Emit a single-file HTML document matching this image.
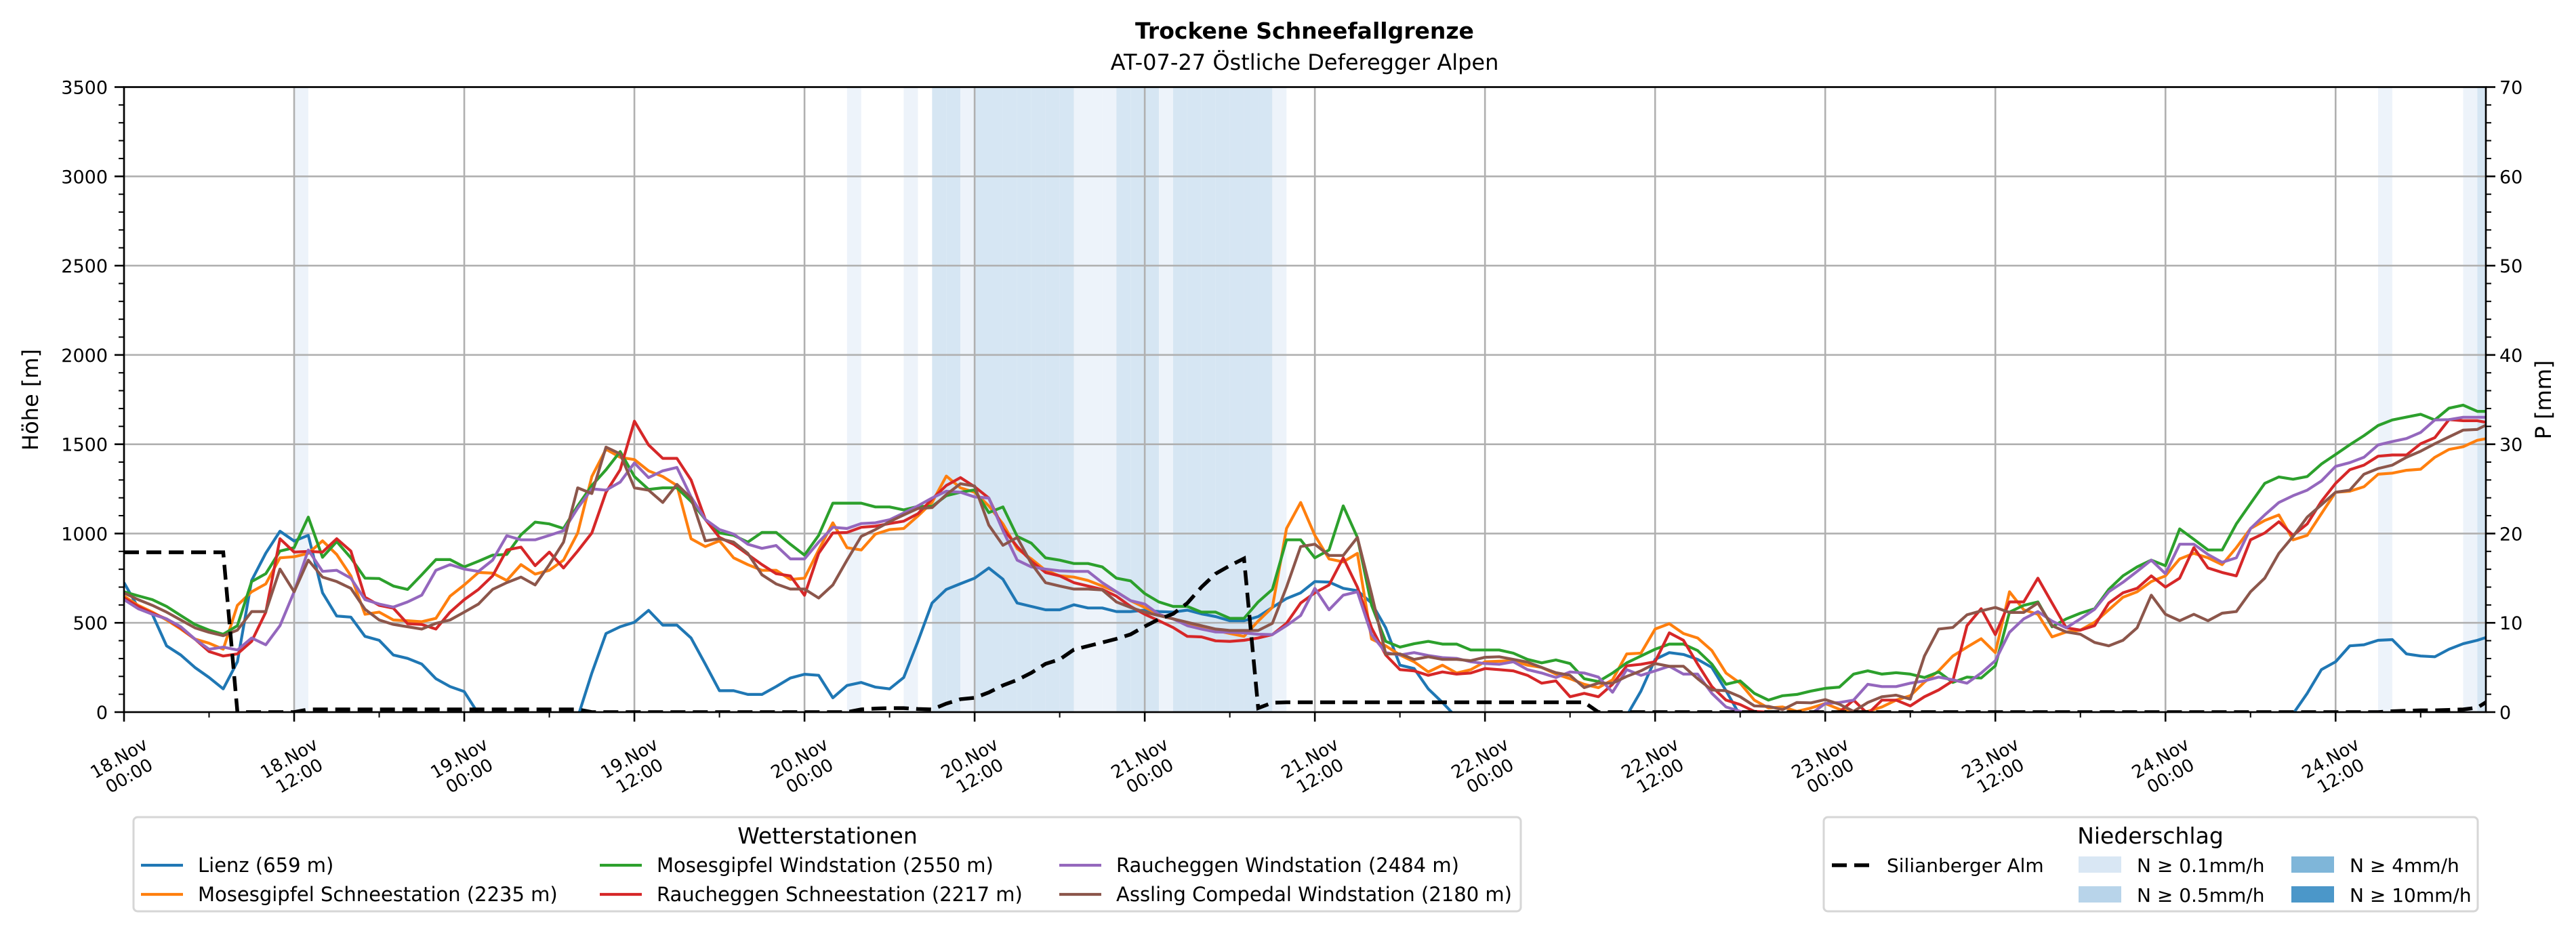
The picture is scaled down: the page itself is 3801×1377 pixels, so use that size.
<!DOCTYPE html>
<html><head><meta charset="utf-8"><style>
body{margin:0;background:#fff}
svg{display:block;font-family:"DejaVu Sans","Liberation Sans",sans-serif}
</style></head><body>
<svg id="chart" width="3801" height="1377" viewBox="0 0 3801 1377" xmlns="http://www.w3.org/2000/svg">
<rect width="3801" height="1377" fill="#fff"/>
<defs><clipPath id="clip"><rect x="183" y="128.5" width="3485" height="922.5"/></clipPath></defs>
<g id="bands" clip-path="url(#clip)"></g>
<g id="grid"></g>
<g id="series" clip-path="url(#clip)"></g>
<g id="axes"></g>
<text x="1925" y="57" text-anchor="middle" font-size="33" font-weight="bold">Trockene Schneefallgrenze</text>
<text x="1925" y="103" text-anchor="middle" font-size="32">AT-07-27 Östliche Deferegger Alpen</text>
<text transform="translate(56,590) rotate(-90)" text-anchor="middle" font-size="32">Höhe [m]</text>
<text transform="translate(3764,590) rotate(-90)" text-anchor="middle" font-size="32">P [mm]</text>
<g id="legends"></g>
</svg>
<script>
const NS="http://www.w3.org/2000/svg";
// ---- data ----
const hours=[];for(let i=0;i<168;i++)hours.push(i);
const xTickLabels=["18.Nov|00:00","18.Nov|12:00","19.Nov|00:00","19.Nov|12:00","20.Nov|00:00","20.Nov|12:00","21.Nov|00:00","21.Nov|12:00","22.Nov|00:00","22.Nov|12:00","23.Nov|00:00","23.Nov|12:00","24.Nov|00:00","24.Nov|12:00"];
const yTicks=[0,500,1000,1500,2000,2500,3000,3500];
const y2Ticks=[0,10,20,30,40,50,60,70];
const stationNames=["Lienz (659 m)","Mosesgipfel Schneestation (2235 m)","Mosesgipfel Windstation (2550 m)","Raucheggen Schneestation (2217 m)","Raucheggen Windstation (2484 m)","Assling Compedal Windstation (2180 m)"];
const lienz=[725,585,548,371,320,250,194,130,282,737,
890,1013,958,990,668,538,532,424,402,320,
301,269,187,143,115,-10,-150,-200,-200,-200,
-200,-150,-30,219,440,478,503,570,487,487,
415,269,120,120,99,99,143,191,212,206,
80,149,166,140,130,194,396,611,687,719,
750,807,744,611,592,573,573,601,583,583,
563,563,571,563,560,571,550,535,512,512,
535,586,636,668,731,728,693,680,611,472,
263,244,130,54,-30,-200,-200,-200,-200,-200,
-200,-200,-200,-200,-200,-200,-20,118,295,333,
323,295,250,120,-20,-200,-200,-200,-200,-200,
-200,-200,-200,-200,-200,-200,-200,-200,-200,-200,
-200,-200,-200,-200,-200,-200,-200,-200,-200,-200,
-200,-200,-200,-200,-200,-200,-200,-200,-200,-200,
-200,-200,-200,-10,105,238,282,371,377,402,
406,326,314,310,352,383,402,428];
const mosesSchnee=[649,598,560,516,465,409,386,352,598,674,
718,864,870,889,959,883,763,548,560,516,
512,506,525,649,712,782,778,737,826,773,
794,851,1003,1319,1472,1427,1414,1351,1319,1269,
971,927,959,864,826,794,794,743,750,908,
1060,921,908,997,1022,1028,1098,1174,1322,1256,
1231,1155,1054,915,858,794,763,756,737,706,
674,624,586,548,522,497,472,457,440,424,
510,586,1028,1174,990,858,841,889,409,371,
320,282,225,263,219,238,282,285,288,263,
250,213,187,156,137,181,326,330,465,495,
440,415,345,219,162,67,23,29,4,23,
48,16,0,4,29,67,92,168,231,314,
364,411,333,674,573,548,421,449,459,503,
573,643,674,731,763,858,889,864,826,921,
1028,1073,1104,965,990,1111,1231,1237,1262,1332,
1338,1354,1360,1427,1471,1486,1522,1537];
const mosesWind=[674,651,630,592,541,491,459,436,484,731,
775,902,921,1092,867,955,864,750,748,706,
687,769,854,854,813,845,879,883,993,1064,
1054,1028,1155,1269,1357,1459,1319,1247,1256,1256,
1180,1079,1003,990,952,1006,1006,940,879,990,
1170,1170,1170,1149,1149,1132,1152,1152,1212,1231,
1244,1117,1149,984,946,864,851,832,832,813,
750,735,664,617,592,592,560,560,525,525,
617,687,965,965,864,908,1155,978,598,396,
364,383,396,381,381,348,348,348,330,295,
276,292,272,187,171,219,276,314,352,381,
381,345,269,156,175,105,67,92,99,118,
133,140,213,231,213,221,213,194,225,166,
196,191,259,560,598,617,478,522,554,579,
687,763,813,851,820,1026,968,908,908,1054,
1168,1281,1317,1304,1319,1389,1443,1497,1548,1605,
1636,1652,1668,1636,1702,1719,1684,1684];
const rauchSchnee=[639,592,554,522,472,409,339,314,326,396,
560,971,896,900,896,971,902,643,598,582,
495,491,465,560,630,687,763,908,924,820,
896,807,902,1003,1231,1357,1629,1496,1421,1421,
1300,1079,978,940,883,826,775,763,654,889,
1003,1006,1035,1041,1056,1069,1111,1193,1269,1313,
1262,1199,1028,927,845,782,763,725,706,687,
649,592,548,512,474,424,421,399,396,402,
415,434,497,611,668,712,864,700,472,320,
238,231,206,225,213,219,244,238,231,206,
162,175,86,105,86,156,259,268,282,444,
402,269,143,67,42,4,0,-10,-10,-10,
-10,0,67,-10,67,67,35,86,124,175,
484,579,434,617,617,750,611,472,459,484,
611,668,693,763,700,750,921,807,782,763,
965,1003,1066,990,1054,1180,1281,1357,1383,1433,
1440,1440,1503,1537,1638,1632,1632,1617];
const rauchWind=[630,579,548,522,478,409,352,364,348,415,
377,484,674,908,788,794,750,630,605,588,
617,655,794,826,801,788,851,988,965,965,
990,1016,1142,1250,1243,1288,1395,1313,1351,1370,
1205,1079,1022,997,940,917,933,858,858,952,
1035,1028,1056,1060,1077,1115,1155,1199,1237,1231,
1205,1199,1016,851,813,801,791,788,788,725,
674,624,605,548,522,484,465,449,447,444,
436,434,484,541,693,573,655,674,434,333,
320,333,317,305,301,282,272,268,282,238,
219,194,225,219,196,111,238,206,231,257,
213,213,105,29,4,-10,-20,-20,-20,-10,
48,54,67,156,143,143,162,175,196,181,
162,219,288,447,522,563,510,472,522,576,
674,727,788,851,775,940,940,883,839,864,
1028,1104,1174,1212,1243,1294,1376,1397,1427,1496,
1515,1532,1566,1636,1638,1651,1651,1651];
const assling=[667,630,598,560,516,472,447,428,459,563,
563,801,674,851,756,731,693,576,516,491,
478,465,497,516,560,605,687,725,756,712,
826,952,1256,1224,1484,1446,1256,1243,1174,1275,
1199,959,971,952,889,769,718,689,689,639,
712,851,984,1022,1066,1104,1140,1145,1218,1279,
1266,1047,934,978,832,725,706,689,689,684,
617,586,560,541,522,503,484,465,457,457,
457,497,700,927,940,877,877,978,662,326,
326,295,310,295,295,288,307,310,295,280,
250,221,206,137,162,162,200,231,272,257,
257,187,124,120,86,35,32,14,54,52,
70,44,4,54,86,95,73,314,465,474,
545,567,586,558,558,611,484,449,436,390,
371,402,472,655,548,512,548,512,554,563,
674,750,889,984,1092,1161,1231,1243,1332,1364,
1383,1427,1461,1503,1541,1579,1583,1623];
const silianMM=[17.9,17.9,17.9,17.9,17.9,17.9,17.9,17.9,0,0,
0,0,0,0.3,0.3,0.3,0.3,0.3,0.3,0.3,
0.3,0.3,0.3,0.3,0.3,0.3,0.3,0.3,0.3,0.3,
0.3,0.3,0.3,0,0,0,0,0,0,0,
0,0,0,0,0,0,0,0,0,0,
0,0,0.3,0.4,0.45,0.45,0.35,0.3,0.95,1.45,
1.6,2.2,3.0,3.6,4.4,5.4,5.9,7.0,7.4,7.8,
8.2,8.7,9.6,10.4,11.0,12.2,14.0,15.5,16.4,17.2,
0.45,1.05,1.1,1.1,1.1,1.1,1.1,1.1,1.1,1.1,
1.1,1.1,1.1,1.1,1.1,1.1,1.1,1.1,1.1,1.1,
1.1,1.1,1.1,1.1,0,0,0,0,0,0,
0,0,0,0,0,0,0,0,0,0,
0,0,0,0,0,0,0,0,0,0,
0,0,0,0,0,0,0,0,0,0,
0,0,0,0,0,0,0,0,0,0,
0,0,0,0,0,0,0,0,0,0,
0.1,0.15,0.2,0.2,0.25,0.3,0.5,1.5];
const precipHours=[12,51,55,57,58,59,60,61,62,63,64,65,66,67,68,69,70,71,72,73,74,75,76,77,78,79,80,81,159,165,166];
const precipRate=[0.2,0.2,0.2,1,1,0.2,1,1,1,1,1,1,1,0.2,0.2,0.2,1,1,1,0.2,1,1,1,1,1,1,1,0.2,0.2,0.2,1];
// ---- scales ----
const X0=183,X1=3668,Y0=1051,Y1=128.5,XMAX=166.6;
const X=h=>X0+h*(X1-X0)/XMAX;
const Y=v=>Y0-v*(Y0-Y1)/3500;
const Y2=v=>Y0-v*(Y0-Y1)/70;
function mk(tag,attrs,parent){const e=document.createElementNS(NS,tag);for(const k in attrs)e.setAttribute(k,attrs[k]);parent.appendChild(e);return e;}
const gB=document.getElementById('bands'),gG=document.getElementById('grid'),gS=document.getElementById('series'),gA=document.getElementById('axes'),gL=document.getElementById('legends');
precipHours.forEach((h,i)=>{const r=precipRate[i];
 const b=mk('rect',{x:X(h),y:Y1,width:X(h+1)-X(h),height:Y0-Y1,fill:r>=0.5?'#d6e6f3':'#edf3fa'},gB);
 
 });
for(let i=0;i<xTickLabels.length;i++){const l=mk('line',{x1:X(i*12),x2:X(i*12),y1:Y1,y2:Y0,stroke:'#b0b0b0','stroke-width':2.6},gG);
 }
yTicks.forEach(v=>{const l=mk('line',{x1:X0,x2:X1,y1:Y(v),y2:Y(v),stroke:'#b0b0b0','stroke-width':2.6},gG);
 });
const colors=['#1f77b4','#ff7f0e','#2ca02c','#d62728','#9467bd','#8c564b'];
const allSeries=[lienz,mosesSchnee,mosesWind,rauchSchnee,rauchWind,assling];
const seriesNames=['lienz-line','moses-schnee-line','moses-wind-line','raucheggen-schnee-line','raucheggen-wind-line','assling-line'];
[0,1,2,3,4,5].forEach(si=>{const d=allSeries[si].map((v,i)=>(i?'L':'M')+X(hours[i]).toFixed(1)+','+Y(v).toFixed(1)).join('');
 const p=mk('path',{d:d,fill:'none',stroke:colors[si],'stroke-width':4.2,'stroke-linejoin':'round'},gS);
 });
{const d=silianMM.map((v,i)=>(i?'L':'M')+X(hours[i]).toFixed(1)+','+Y2(v).toFixed(1)).join('');
 const p=mk('path',{d:d,fill:'none',stroke:'#000','stroke-width':5.5,'stroke-dasharray':'22,11'},gS);
 }
{const f=mk('rect',{x:X0,y:Y1,width:X1-X0,height:Y0-Y1,fill:'none',stroke:'#000','stroke-width':2.6},gA);
 }
for(let v=0;v<=3500;v+=100){const major=v%500===0;
 mk('line',{x1:X0,x2:X0-(major?14:8),y1:Y(v),y2:Y(v),stroke:'#000','stroke-width':major?2.6:2},gA);}
yTicks.forEach(v=>{const t=mk('text',{x:X0-24,y:Y(v)+10,'text-anchor':'end','font-size':27},gA);t.textContent=v;
 });
for(let v=0;v<=70;v+=2){const major=v%10===0;
 mk('line',{x1:X1,x2:X1+(major?14:8),y1:Y2(v),y2:Y2(v),stroke:'#000','stroke-width':major?2.6:2},gA);}
y2Ticks.forEach(v=>{const t=mk('text',{x:X1+20,y:Y2(v)+10,'text-anchor':'start','font-size':27},gA);t.textContent=v;
 });
for(let h=0;h<=XMAX;h+=6){const major=h%12===0;
 mk('line',{x1:X(h),x2:X(h),y1:Y0,y2:Y0+(major?14:8),stroke:'#000','stroke-width':major?2.6:2},gA);}
xTickLabels.forEach((s,i)=>{const [a,b]=s.split('|');const g=mk('g',{transform:`translate(${X(i*12)},1132) rotate(-30)`},gA);
 
 const t1=mk('text',{x:0,y:-6,'text-anchor':'middle','font-size':26},g);t1.textContent=a;
 const t2=mk('text',{x:0,y:24,'text-anchor':'middle','font-size':26},g);t2.textContent=b;});
// legend 1
{const g=mk('g',{},gL);
 mk('rect',{x:197,y:1206,width:2047,height:139,rx:6,fill:'#fff',stroke:'#d6d6d6','stroke-width':3},g);
 const tt=mk('text',{x:1221,y:1245,'text-anchor':'middle','font-size':33},g);tt.textContent='Wetterstationen';
 const pos=[[208,1277],[208,1320],[885,1277],[885,1320],[1563,1277],[1563,1320]];
 [0,1,2,3,4,5].forEach((si,k)=>{const e=mk('g',{},g);
  const [x,y]=pos[k];mk('line',{x1:x,x2:x+62,y1:y,y2:y,stroke:colors[si],'stroke-width':4.2},e);
  const t=mk('text',{x:x+84,y:y+10,'font-size':29},e);t.textContent=stationNames[si];});}
// legend 2
{const g=mk('g',{},gL);
 mk('rect',{x:2691,y:1206,width:965,height:139,rx:6,fill:'#fff',stroke:'#d6d6d6','stroke-width':3},g);
 const tt=mk('text',{x:3173,y:1245,'text-anchor':'middle','font-size':33},g);tt.textContent='Niederschlag';
 const e0=mk('g',{},g);
 mk('line',{x1:2703,x2:2760,y1:1277,y2:1277,stroke:'#000','stroke-width':5.5,'stroke-dasharray':'22,11'},e0);
 const t0=mk('text',{x:2784,y:1287,'font-size':28},e0);t0.textContent='Silianberger Alm';
 const patches=[[3067,1264,'#d9e7f4','N ≥ 0.1mm/h'],[3067,1308,'#b8d4ea','N ≥ 0.5mm/h'],[3381,1264,'#7fb6d9','N ≥ 4mm/h'],[3381,1308,'#4b97c9','N ≥ 10mm/h']];
 patches.forEach(p=>{const e=mk('g',{},g);
  mk('rect',{x:p[0],y:p[1],width:63,height:24,fill:p[2]},e);
  const t=mk('text',{x:p[0]+86,y:p[1]+23,'font-size':28},e);t.textContent=p[3];});}
</script>
</body></html>
